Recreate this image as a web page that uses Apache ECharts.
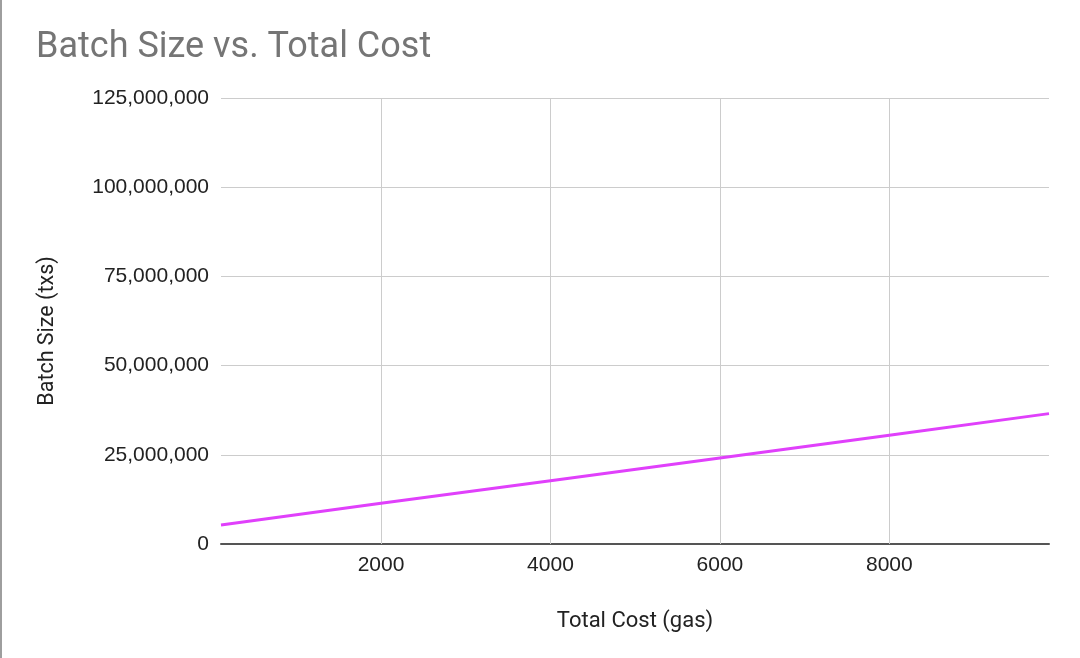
<!DOCTYPE html>
<html>
<head>
<meta charset="utf-8">
<script src="https://cdn.jsdelivr.net/npm/echarts@6/dist/echarts.min.js"></script>
<style>
html,body{margin:0;padding:0;background:#fff;}
#chart{width:1080px;height:658px;}
</style>
</head>
<body>
<div id="chart"></div>
<script>
// Data
const totalCost = [111, 2000, 4000, 6000, 8000, 9885];
const batchSize = [5330000, 11400000, 17700000, 24100000, 30500000, 36540000];
const yTicks = [0, 25000000, 50000000, 75000000, 100000000, 125000000];
const xTicks = [2000, 4000, 6000, 8000];

const chart = echarts.init(document.getElementById('chart'), null, {renderer: 'canvas'});
const points = totalCost.map((x, i) => [x, batchSize[i]]);

chart.setOption({
  backgroundColor: '#ffffff',
  animation: false,
  title: {
    text: 'Batch Size vs. Total Cost',
    left: 31,
    top: 25,
    textStyle: {fontFamily: 'Roboto', fontSize: 36, fontWeight: 'normal', color: '#757575'}
  },
  graphic: [{
    type: 'rect',
    shape: {x: 0, y: 0, width: 2, height: 658},
    style: {fill: '#9e9e9e'}
  }],
  grid: {left: 221, right: 31, top: 98, bottom: 114, containLabel: false},
  xAxis: {
    type: 'value',
    min: totalCost[0],
    max: totalCost[totalCost.length - 1],
    name: 'Total Cost (gas)',
    nameLocation: 'middle',
    nameGap: 66,
    nameTextStyle: {fontFamily: 'Roboto', fontSize: 22, color: '#222'},
    axisLine: {show: true, lineStyle: {color: '#555', width: 2}},
    axisTick: {show: false},
    axisLabel: {
      fontFamily: 'Liberation Sans, Arial', fontSize: 21, color: '#222', margin: 11,
      customValues: xTicks,
      formatter: v => String(v)
    },
    splitLine: {show: false}
  },
  yAxis: {
    type: 'value',
    min: 0,
    max: 125000000,
    interval: 25000000,
    name: 'Batch Size (txs)',
    nameLocation: 'middle',
    nameGap: 162,
    nameTextStyle: {fontFamily: 'Roboto', fontSize: 21.5, color: '#222', padding: [0, 20, 0, 0]},
    axisLine: {show: false},
    axisTick: {show: false},
    axisLabel: {
      fontFamily: 'Liberation Sans, Arial', fontSize: 21, color: '#222', margin: 12,
      formatter: v => v.toLocaleString('en-US')
    },
    splitLine: {show: true, lineStyle: {color: '#cccccc', width: 1}}
  },
  series: [
    {
      type: 'line',
      data: points,
      showSymbol: false,
      lineStyle: {color: '#e040fb', width: 3},
      z: 5
    },
    {
      // vertical grid lines at x ticks
      type: 'line',
      data: [],
      markLine: {
        silent: true,
        symbol: 'none',
        label: {show: false},
        lineStyle: {color: '#cccccc', width: 1, type: 'solid'},
        data: xTicks.map(v => ({xAxis: v}))
      }
    }
  ]
});
</script>
</body>
</html>
